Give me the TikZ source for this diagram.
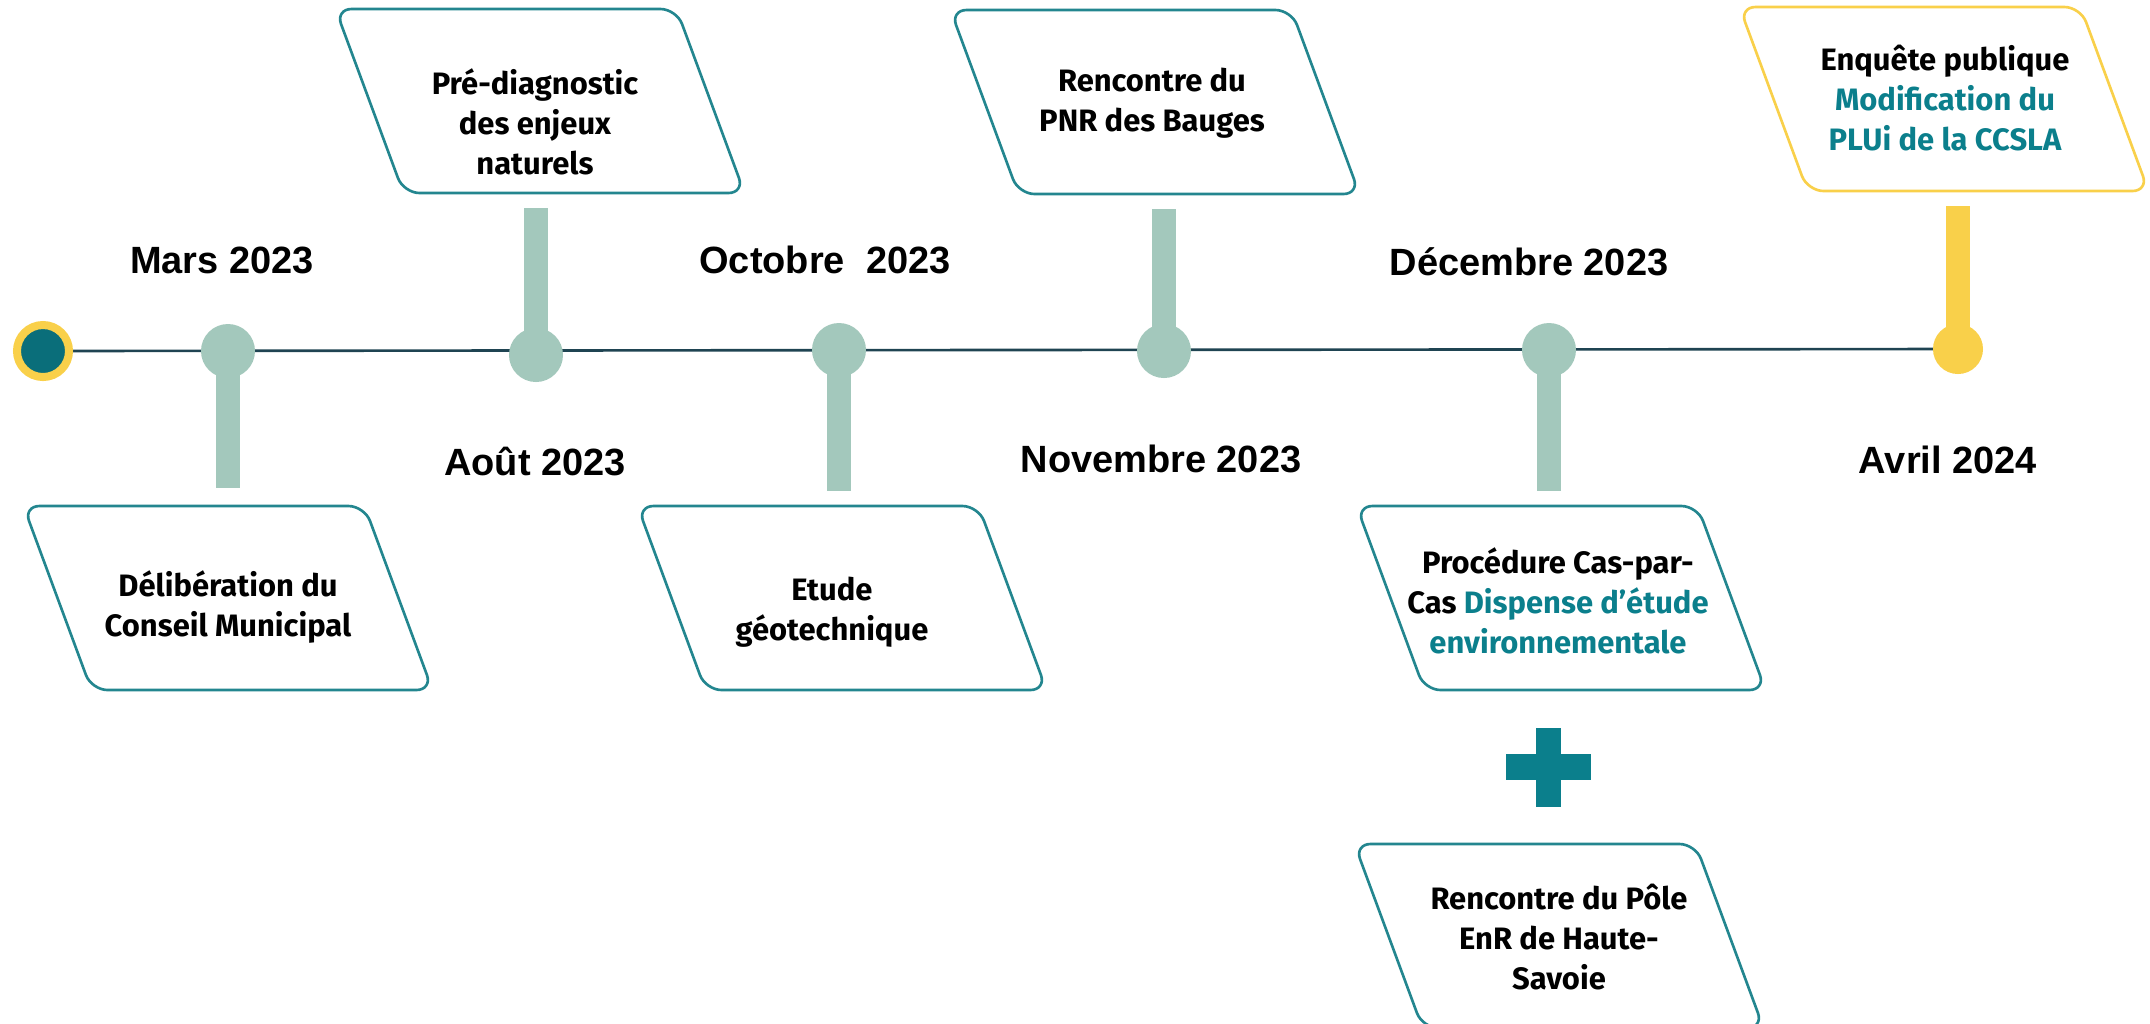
\documentclass[tikz,border=0pt]{standalone}
\usepackage{fontspec}
\newfontfamily\datefont{Liberation Sans}
\newfontfamily\boxfont{Fira Sans}

\definecolor{sage}{HTML}{A3C8BC}
\definecolor{gold}{HTML}{F9D04A}
\definecolor{deepteal}{HTML}{0A6E7A}
\definecolor{axisblue}{HTML}{1F4452}
\definecolor{boxteal}{HTML}{23868F}
\definecolor{tealtxt}{HTML}{0B7F8C}

% slanted frame with rounded corners around a centre coordinate
\newcommand{\slantframe}[2]{%
  \draw[#1] ([shift={(-204.5,-92)}]#2) -- ++(341,0) -- ++(68,184) -- ++(-341,0) -- cycle;}

\begin{document}
\begin{tikzpicture}[x=0.01cm, y=-0.01cm,
  sagedot/.style={circle, fill=sage, minimum size=0.54cm, inner sep=0pt},
  golddot/.style={circle, fill=gold, minimum size=0.50cm, inner sep=0pt},
  startdot/.style={circle, fill=deepteal, draw=gold, line width=0.08cm, minimum size=0.52cm, inner sep=0pt},
  stem/.style={line width=0.24cm, sage},
  goldstem/.style={line width=0.24cm, gold},
  axis/.style={line width=0.75pt, axisblue},
  frame/.style={draw=boxteal, line width=0.75pt, rounded corners=0.16cm, fill=white},
  goldframe/.style={frame, draw=gold},
  datelbl/.style={font=\datefont\bfseries\fontsize{10.8}{12}\selectfont, anchor=base, inner sep=0pt},
  boxtxt/.style={font=\boxfont\bfseries\fontsize{8.8}{11.4}\selectfont, align=center, inner sep=0pt},
  plusbar/.style={fill=tealtxt, draw=none},
]
\useasboundingbox (0,0) rectangle (2150,1023);
\clip (0,0) rectangle (2150,1023);

% milestone centres on the time axis
\coordinate (c0) at (43,351);
\coordinate (c1) at (228,351);
\coordinate (c2) at (536,355);
\coordinate (c3) at (839,350);
\coordinate (c4) at (1164,351);
\coordinate (c5) at (1549,350);
\coordinate (c6) at (1958,349);

% free ends of the stems
\coordinate (s1) at (228,488);
\coordinate (s2) at (536,208);
\coordinate (s3) at (839,491);
\coordinate (s4) at (1164,209);
\coordinate (s5) at (1549,491);
\coordinate (s6) at (1958,206);

% time axis
\draw[axis] (c0) -- (c6);

% stems
\draw[stem] (c1) -- (s1);
\draw[stem] (c2) -- (s2);
\draw[stem] (c3) -- (s3);
\draw[stem] (c4) -- (s4);
\draw[stem] (c5) -- (s5);
\draw[goldstem] (c6) -- (s6);

% dots
\node[startdot] (d0) at (c0) {};
\node[sagedot] (d1) at (c1) {};
\node[sagedot] (d2) at (c2) {};
\node[sagedot] (d3) at (c3) {};
\node[sagedot] (d4) at (c4) {};
\node[sagedot] (d5) at (c5) {};
\node[golddot] (d6) at (c6) {};

% event frames
\coordinate (b1) at (228,598);
\coordinate (b2) at (540,101);
\coordinate (b3) at (842,598);
\coordinate (b4) at (1155,102);
\coordinate (b5) at (1561,598);
\coordinate (b6) at (1559,936);
\coordinate (b7) at (1944,99);

\slantframe{frame}{b1}
\slantframe{frame}{b2}
\slantframe{frame}{b3}
\slantframe{frame}{b4}
\slantframe{frame}{b5}
\slantframe{frame}{b6}
\slantframe{goldframe}{b7}

% event texts
\node[boxtxt] (t1) at (228,607) {Délibération du\\Conseil Municipal};
\node[boxtxt] (t2) at (535,122) {Pré-diagnostic\\des enjeux\\naturels};
\node[boxtxt] (t3) at (832,612) {Etude\\géotechnique};
\node[boxtxt] (t4) at (1152,103) {Rencontre du\\PNR des Bauges};
\node[boxtxt] (t5) at (1558,601) {Procédure Cas-par-\\Cas \textcolor{tealtxt}{Dispense d’étude}\\\textcolor{tealtxt}{environnementale}};
\node[boxtxt] (t6) at (1559,937) {Rencontre du Pôle\\EnR de Haute-\\Savoie};
\node[boxtxt] (t7) at (1945,98) {Enquête publique\\\textcolor{tealtxt}{Modification du}\\\textcolor{tealtxt}{PLUi de la CCSLA}};

% dates
\node[datelbl] (l1) at (222,273) {Mars 2023};
\node[datelbl] (l2) at (535,475) {Août 2023};
\node[datelbl] (l3) at (825,273) {Octobre\ \ 2023};
\node[datelbl] (l4) at (1161,472) {Novembre 2023};
\node[datelbl] (l5) at (1529,275) {Décembre 2023};
\node[datelbl] (l6) at (1948,473) {Avril 2024};

% plus sign between the two December frames
\fill[plusbar] (1536,728) rectangle (1561,807);
\fill[plusbar] (1506,754) rectangle (1591,780);
\end{tikzpicture}
\end{document}
